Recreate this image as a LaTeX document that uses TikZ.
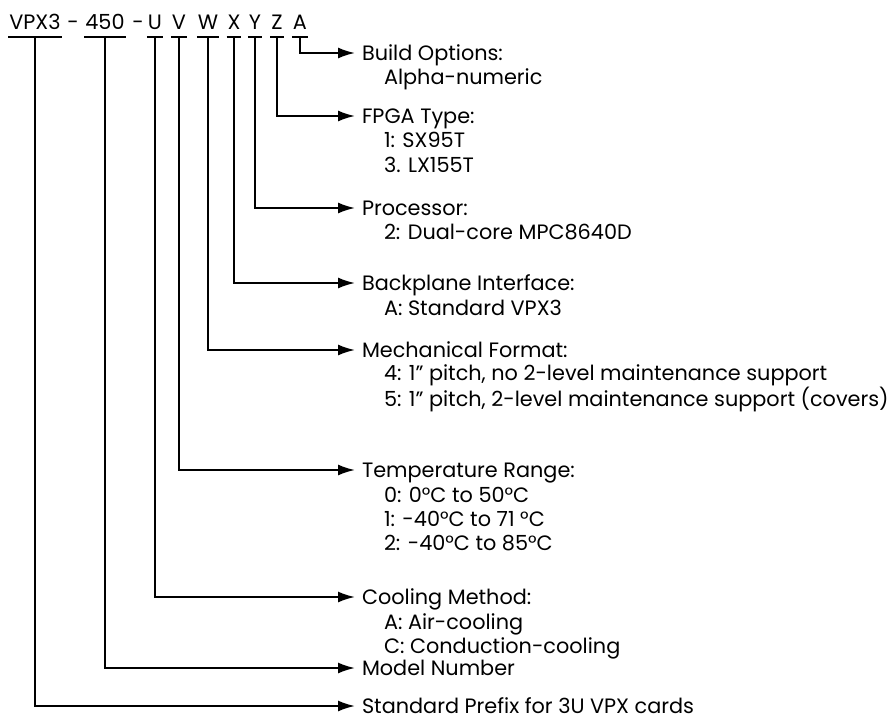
\documentclass[tikz,border=0pt]{standalone}
\usepackage{fontspec}
\setmainfont{Poppins}
\usetikzlibrary{positioning,arrows.meta}

\begin{document}
\begin{tikzpicture}[
  x=1pt, y=-1pt,
  >={Latex[length=17pt,width=11pt]},
  line width=2pt,
  every node/.style={inner sep=0pt, font=\fontsize{20.8}{24.3}\selectfont},
  code/.style={anchor=base, inner ysep=6pt, text height=15pt, text depth=0pt},
  head/.style={anchor=west, inner xsep=6pt, text height=15pt, text depth=0pt},
  items/.style={anchor=base west, align=left}
]
  \useasboundingbox (0,0) rectangle (891,719);

  % part number
  \node[code] (vpx) at (35,30) {VPX3};
  \node[code] (d1) at (73,30) {-};
  \node[code] (num) at (105,30) {450};
  \node[code] (d2) at (138,30) {-};
  \node[code] (u) at (155,30) {U};
  \node[code] (v) at (179,30) {V};
  \node[code] (w) at (208,30) {W};
  \node[code] (x) at (234,30) {X};
  \node[code] (y) at (255,30) {Y};
  \node[code] (z) at (277,30) {Z};
  \node[code] (a) at (300,30) {A};
  \foreach \n in {vpx,num,u,v,w,x,y,z,a}
    \draw (\n.south west) -- (\n.south east);

  % fields (items anchored at the baseline of their last line)
  \node[head] (build) at (355,53) {Build Options:};
  \node[items] (buildi) at ([xshift=28pt,yshift=-24.5pt]build.base west) {Alpha-numeric};

  \node[head] (fpga) at (355,116) {FPGA Type:};
  \node[items] (fpgai) at ([xshift=28pt,yshift=-48.8pt]fpga.base west)
    {1: SX95T\\3. LX155T};

  \node[head] (proc) at (355,208) {Processor:};
  \node[items] (proci) at ([xshift=28pt,yshift=-24.5pt]proc.base west)
    {2: Dual-core MPC8640D};

  \node[head] (back) at (355,283) {Backplane Interface:};
  \node[items] (backi) at ([xshift=28pt,yshift=-24.5pt]back.base west)
    {A: Standard VPX3};

  \node[head] (mech) at (355,350) {Mechanical Format:};
  \node[items] (mechi) at ([xshift=28pt,yshift=-48.8pt]mech.base west)
    {4: 1” pitch, no 2-level maintenance support\\5: 1” pitch, 2-level maintenance support (covers)};

  \node[head] (temp) at (355,470) {Temperature Range:};
  \node[items] (tempi) at ([xshift=28pt,yshift=-73.1pt]temp.base west)
    {0: 0°C to 50°C\\1: -40°C to 71 °C\\2: -40°C to 85°C};

  \node[head] (cool) at (355,597) {Cooling Method:};
  \node[items] (cooli) at ([xshift=28pt,yshift=-48.8pt]cool.base west)
    {A: Air-cooling\\C: Conduction-cooling};

  \node[head] (model) at (355,668) {Model Number};
  \node[head] (prefix) at (355,706) {Standard Prefix for 3U VPX cards};

  % connectors
  \draw[->] (a.south) |- (build.west);
  \draw[->] (z.south) |- (fpga.west);
  \draw[->] (y.south) |- (proc.west);
  \draw[->] (x.south) |- (back.west);
  \draw[->] (w.south) |- (mech.west);
  \draw[->] (v.south) |- (temp.west);
  \draw[->] (u.south) |- (cool.west);
  \draw[->] (num.south) |- (model.west);
  \draw[->] (vpx.south) |- (prefix.west);
\end{tikzpicture}
\end{document}
